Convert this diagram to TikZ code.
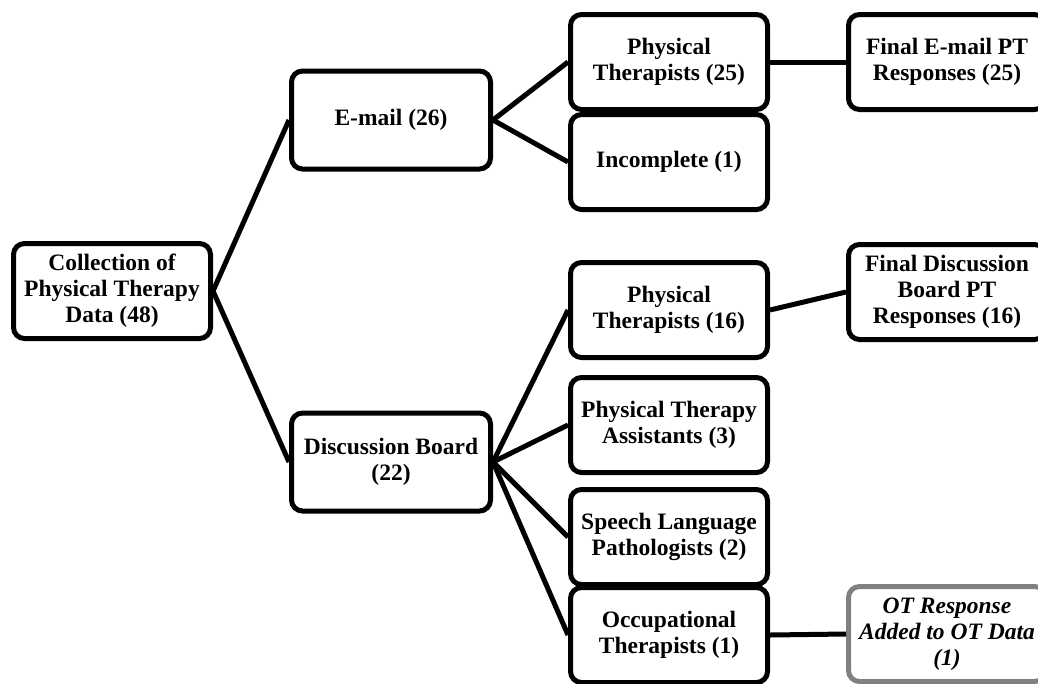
\documentclass[tikz,border=0pt]{standalone}
\usepackage{fontspec}
\setmainfont{Liberation Serif}
\usetikzlibrary{positioning}

\begin{document}
\begin{tikzpicture}[x=1pt,y=-1pt,
% Box style
    box/.style={rectangle,draw,line width=5pt,rounded corners=11pt,
		inner sep=0pt,align=center,
		minimum width=197pt,minimum height=95pt,
		font={\fontsize{23.5pt}{26pt}\selectfont\bfseries}},
    addbox/.style={box,draw=black!50,
		font={\fontsize{23.5pt}{26pt}\selectfont\bfseries\itshape}},
% Link style
    link/.style={line width=5pt}
    ]
  \useasboundingbox (0,0) rectangle (1038,683);
  \clip (0,0) rectangle (1038,683);

  \node (root) [box] at (112, 291) {Collection of\\Physical Therapy\\Data (48)};

  \node (email) [box,minimum width=199pt,minimum height=98pt] at (391, 120) {E-mail (26)};
  \node (board) [box,minimum width=199pt,minimum height=98pt] at (391, 462) {Discussion Board\\(22)};

  \node (pt25) [box] at (669, 62) {Physical\\Therapists (25)};
  \node (inc) [box] at (669, 162) {Incomplete (1)};
  \node (pt16) [box] at (669, 310) {Physical\\Therapists (16)};
  \node (pta) [box] at (669, 425) {Physical Therapy\\Assistants (3)};
  \node (slp) [box] at (669, 537) {Speech Language\\Pathologists (2)};
  \node (ot) [box] at (669, 635) {Occupational\\Therapists (1)};

  \node (femail) [box] at (947, 62) {Final E-mail PT\\Responses (25)};
  \node (fboard) [box] at (947, 292) {Final Discussion\\Board PT\\Responses (16)};
  \node (otdata) [addbox] at (947, 634) {OT Response\\Added to OT Data\\(1)};

  % connectors
  \draw[link] (root.east) -- (email.west);
  \draw[link] (root.east) -- (board.west);
  \draw[link] (email.east) -- (pt25.west);
  \draw[link] (email.east) -- (inc.west);
  \draw[link] (board.east) -- (pt16.west);
  \draw[link] (board.east) -- (pta.west);
  \draw[link] (board.east) -- (slp.west);
  \draw[link] (board.east) -- (ot.west);
  \draw[link] (pt25.east) -- (femail.west);
  \draw[link] (pt16.east) -- (fboard.west);
  \draw[link] (ot.east) -- (otdata.west);

\end{tikzpicture}
\end{document}
